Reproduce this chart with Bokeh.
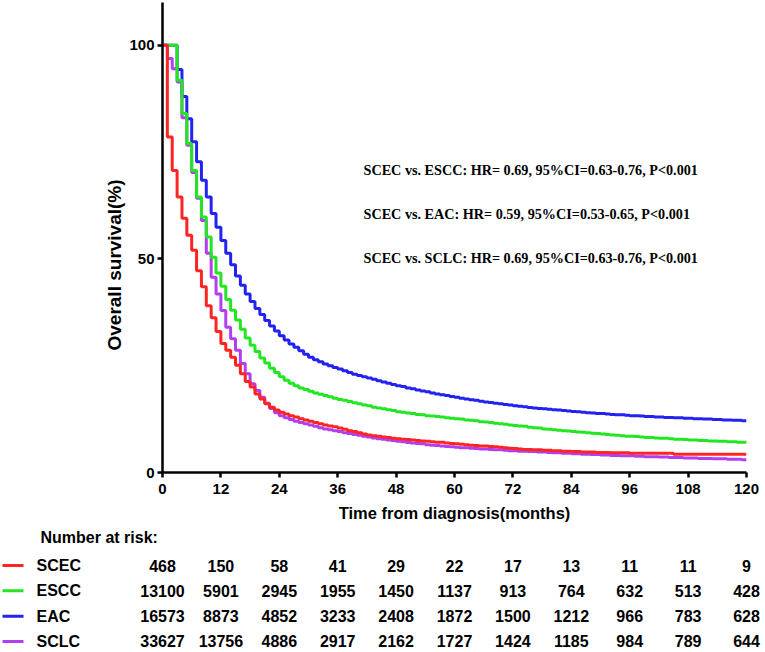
from bokeh.plotting import figure
from bokeh.models import Range1d, FixedTicker, Title
from bokeh.layouts import column
from bokeh.embed import file_html
from bokeh.resources import INLINE
from bokeh.core.properties import value

# ---------------- data ----------------
months = list(range(121))

scec_surv = [100, 78.5, 70.7, 64.5, 59.5, 55.5, 52.0, 47.2, 43.5, 39.0,
             36.2, 33.0, 30.2, 28.6, 27.0, 25.1, 23.1, 21.3, 20.0, 18.4,
             17.2, 16.1, 15.3, 14.6, 14.1, 13.7, 13.3, 13.0, 12.6, 12.3,
             12.0, 11.7, 11.4, 11.1, 10.9, 10.7, 10.4, 10.1, 9.8, 9.6,
             9.3, 9.0, 8.8, 8.6, 8.5, 8.3, 8.2, 8.0, 7.9, 7.8,
             7.7, 7.6, 7.5, 7.4, 7.3, 7.2, 7.1, 7.1, 6.9, 6.8,
             6.7, 6.6, 6.5, 6.4, 6.3, 6.2, 6.2, 6.1, 6.0, 5.9,
             5.8, 5.7, 5.6, 5.5, 5.4, 5.4, 5.3, 5.3, 5.2, 5.2,
             5.1, 5.1, 5.0, 5.0, 4.9, 4.9, 4.8, 4.8, 4.8, 4.7,
             4.7, 4.7, 4.6, 4.6, 4.6, 4.6, 4.5, 4.5, 4.5, 4.5,
             4.5, 4.5, 4.5, 4.5, 4.5, 4.3, 4.3, 4.3, 4.3, 4.3,
             4.3, 4.3, 4.3, 4.3, 4.3, 4.3, 4.3, 4.3, 4.3, 4.3, 4.3]

escc_surv = [100, 100, 100, 91.8, 84.0, 77.0, 70.7, 64.5, 59.8, 55.1,
             50.4, 46.7, 43.6, 40.5, 38.0, 35.7, 33.5, 31.5, 29.8, 28.3,
             26.8, 25.6, 24.4, 23.4, 22.4, 21.6, 20.9, 20.3, 19.8, 19.4,
             19.0, 18.6, 18.3, 18.0, 17.7, 17.4, 17.1, 16.9, 16.6, 16.3,
             16.1, 15.8, 15.6, 15.3, 15.1, 14.9, 14.7, 14.5, 14.2, 14.1,
             13.9, 13.8, 13.6, 13.5, 13.3, 13.2, 13.1, 13.0, 12.8, 12.7,
             12.6, 12.5, 12.3, 12.2, 12.1, 11.9, 11.8, 11.7, 11.5, 11.4,
             11.3, 11.1, 11.0, 10.9, 10.8, 10.6, 10.5, 10.4, 10.2, 10.1,
             10.0, 9.9, 9.8, 9.7, 9.6, 9.5, 9.4, 9.3, 9.2, 9.1,
             9.0, 8.9, 8.8, 8.7, 8.6, 8.5, 8.5, 8.4, 8.3, 8.2,
             8.2, 8.1, 8.0, 8.0, 7.9, 7.8, 7.8, 7.7, 7.6, 7.6,
             7.5, 7.5, 7.4, 7.4, 7.3, 7.3, 7.2, 7.2, 7.1, 7.1, 7.0]

eac_surv = [100, 100, 100, 94.3, 88.0, 82.8, 77.4, 72.7, 68.4, 64.5,
            60.6, 57.4, 54.3, 51.3, 48.6, 46.0, 43.8, 41.8, 40.0, 38.4,
            37.0, 35.6, 34.3, 33.1, 32.0, 31.0, 30.1, 29.3, 28.5, 27.7,
            27.0, 26.4, 25.9, 25.4, 25.0, 24.6, 24.2, 23.8, 23.4, 23.0,
            22.7, 22.4, 22.1, 21.8, 21.5, 21.2, 20.9, 20.6, 20.3, 20.1,
            19.8, 19.6, 19.3, 19.1, 18.9, 18.6, 18.4, 18.2, 18.0, 17.8,
            17.6, 17.4, 17.2, 17.0, 16.9, 16.7, 16.5, 16.4, 16.2, 16.1,
            15.9, 15.8, 15.6, 15.5, 15.4, 15.2, 15.1, 15.0, 14.9, 14.8,
            14.7, 14.6, 14.5, 14.4, 14.3, 14.2, 14.1, 14.0, 13.9, 13.8,
            13.8, 13.7, 13.6, 13.5, 13.5, 13.4, 13.3, 13.3, 13.2, 13.1,
            13.1, 13.0, 13.0, 12.9, 12.9, 12.8, 12.8, 12.7, 12.7, 12.6,
            12.6, 12.5, 12.5, 12.4, 12.4, 12.3, 12.3, 12.2, 12.2, 12.1, 12.1]

sclc_surv = [100, 96.9, 94.5, 91.4, 83.0, 76.6, 70.2, 64.2, 59.0, 51.3,
             45.7, 41.8, 37.9, 34.0, 31.3, 28.6, 25.5, 23.1, 20.8, 19.2,
             17.6, 16.2, 15.0, 14.0, 13.3, 12.8, 12.4, 12.0, 11.7, 11.4,
             11.1, 10.8, 10.5, 10.2, 10.0, 9.8, 9.6, 9.3, 9.1, 8.9,
             8.7, 8.5, 8.3, 8.1, 7.9, 7.8, 7.6, 7.5, 7.3, 7.2,
             7.0, 6.9, 6.8, 6.7, 6.5, 6.4, 6.3, 6.2, 6.1, 6.0,
             5.9, 5.8, 5.8, 5.7, 5.6, 5.5, 5.5, 5.4, 5.3, 5.3,
             5.2, 5.1, 5.1, 5.0, 5.0, 4.9, 4.9, 4.8, 4.8, 4.7,
             4.6, 4.6, 4.5, 4.5, 4.4, 4.4, 4.3, 4.3, 4.2, 4.2,
             4.1, 4.1, 4.0, 4.0, 3.9, 3.9, 3.9, 3.8, 3.8, 3.7,
             3.7, 3.7, 3.6, 3.6, 3.5, 3.5, 3.5, 3.4, 3.4, 3.4,
             3.3, 3.3, 3.3, 3.2, 3.2, 3.2, 3.1, 3.1, 3.1, 3.0, 3.0]

group_names = ["SCEC", "ESCC", "EAC", "SCLC"]
group_colors = ["#ff2424", "#22e622", "#2222f2", "#b23ef0"]

risk_months = [0, 12, 24, 36, 48, 60, 72, 84, 96, 108, 120]
risk_scec = [468, 150, 58, 41, 29, 22, 17, 13, 11, 11, 9]
risk_escc = [13100, 5901, 2945, 1955, 1450, 1137, 913, 764, 632, 513, 428]
risk_eac = [16573, 8873, 4852, 3233, 2408, 1872, 1500, 1212, 966, 783, 628]
risk_sclc = [33627, 13756, 4886, 2917, 2162, 1727, 1424, 1185, 984, 789, 644]

y_ticks = [0, 50, 100]

hr_lines = ["SCEC vs. ESCC: HR= 0.69, 95%CI=0.63-0.76, P<0.001",
            "SCEC vs. EAC: HR= 0.59, 95%CI=0.53-0.65, P<0.001",
            "SCEC vs. SCLC: HR= 0.69, 95%CI=0.63-0.76, P<0.001"]

# ---------------- layout ----------------
W = 765
LEFT = 162
RIGHT = 19
TOP = 2
FRAME_H = 470
BOTTOM = 56
H1 = TOP + FRAME_H + BOTTOM
H2 = 124
SANS = "Liberation Sans"
SERIF = "Liberation Serif"
PPM = (W - LEFT - RIGHT) / 120.0  # pixels per month


def page_x(px):
    """horizontal page pixel -> months on the time scale"""
    return (px - LEFT) / PPM


p = figure(width=W, height=H1, x_range=Range1d(0, 120), y_range=Range1d(0, 110),
           output_backend="svg", toolbar_location=None,
           min_border_left=LEFT, min_border_right=RIGHT,
           min_border_top=TOP, min_border_bottom=BOTTOM)
p.frame_align = False
p.grid.visible = False
p.outline_line_color = None

curves = {"SCEC": scec_surv, "ESCC": escc_surv, "EAC": eac_surv, "SCLC": sclc_surv}
for name in ["EAC", "SCLC", "ESCC", "SCEC"]:
    col = group_colors[group_names.index(name)]
    p.step(months, curves[name], mode="after", line_width=3, line_color=col)

p.xaxis.ticker = FixedTicker(ticks=risk_months)
p.yaxis.ticker = FixedTicker(ticks=y_ticks)
p.xaxis.axis_label = "Time from diagnosis(months)"
for ax in (p.xaxis, p.yaxis):
    ax.axis_line_width = 2.5
    ax.axis_line_color = "black"
    ax.major_tick_line_width = 2.5
    ax.major_tick_line_color = "black"
    ax.major_tick_out = 5
    ax.major_tick_in = 0
    ax.minor_tick_out = 0
    ax.minor_tick_in = 0
    ax.major_label_text_font = SANS
    ax.major_label_text_font_style = "bold"
    ax.major_label_text_font_size = "15px"
    ax.major_label_text_color = "black"
    ax.axis_label_text_font = SANS
    ax.axis_label_text_font_style = "bold"
    ax.axis_label_text_font_size = "16.5px"
    ax.axis_label_text_color = "black"
p.xaxis.major_label_standoff = 6
p.xaxis.axis_label_standoff = 7
p.yaxis.major_label_standoff = 3

# y axis title (side panel title, shifted so it is centred near 50 %)
p.add_layout(Title(text="Overall survival(%)", align="left", offset=122, standoff=4,
                   text_font=SANS, text_font_style="bold", text_font_size="19px",
                   text_color="black"), "left")

# HR annotation
hr_x = 41.3
hr_y = [70.7, 60.4, 50.1]
p.text(x=[hr_x] * 3, y=hr_y, text=hr_lines, text_font=value(SERIF),
       text_font_style="bold", text_font_size="14.2px", text_color="black",
       text_baseline="middle", text_align="left")

# ---------------- risk table ----------------
x2 = Range1d(-LEFT / PPM, 120 + RIGHT / PPM)
p2 = figure(width=W, height=H2, x_range=x2, y_range=Range1d(4.435, -0.461),
            output_backend="svg", toolbar_location=None,
            x_axis_location=None, y_axis_location=None, min_border=0)
p2.frame_align = False
p2.grid.visible = False
p2.outline_line_color = None

text_kw = dict(text_font=value(SANS), text_font_style="bold", text_font_size="16px",
               text_color="black", text_baseline="middle")

p2.text(x=[page_x(40)], y=[-0.1], text=["Number at risk:"], text_align="left", **text_kw)

risk_rows = [risk_scec, risk_escc, risk_eac, risk_sclc]
row_y = [1, 2, 3, 4]
p2.segment(x0=[page_x(2)] * 4, x1=[page_x(23)] * 4, y0=row_y, y1=row_y,
           line_color=group_colors, line_width=3)
p2.text(x=[page_x(36)] * 4, y=row_y, text=group_names, text_align="left", **text_kw)

for yrow, row in zip(row_y, risk_rows):
    p2.text(x=risk_months, y=[yrow] * len(risk_months), text=[str(v) for v in row],
            text_align="center", **text_kw)

layout = column(p, p2)
open("out.html", "w").write(file_html(layout, INLINE))
